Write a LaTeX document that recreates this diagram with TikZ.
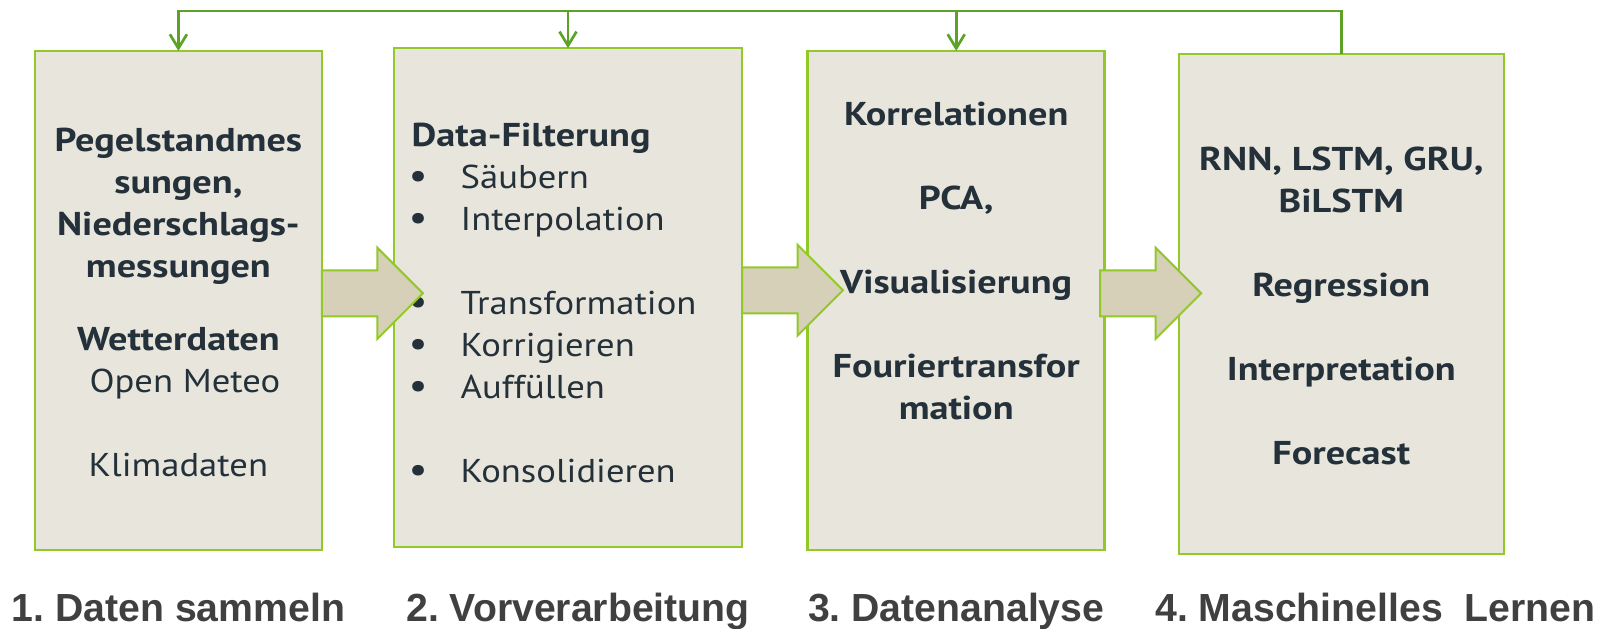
\documentclass[tikz,border=0pt]{standalone}
\usepackage{fontspec}
\setmainfont{PT Sans}[FakeStretch=1.11, BoldFeatures={FakeStretch=1.16}]
\newfontfamily\labelfont{Liberation Sans}
\usepackage{xcolor}
\usetikzlibrary{shapes.arrows,arrows.meta,positioning}

\definecolor{boxfill}{RGB}{232,230,220}
\definecolor{boxline}{RGB}{146,200,40}
\definecolor{flowfill}{RGB}{214,208,184}
\definecolor{loopline}{RGB}{92,162,38}
\definecolor{boxtext}{RGB}{36,49,58}
\definecolor{labeltext}{RGB}{64,64,64}

\newcommand{\pbul}{\makebox[49pt][l]{\hspace{-3pt}\scalebox{1.15}{\textbullet}}}
\frenchspacing

\begin{document}
\begin{tikzpicture}[
    x=1pt, y=-1pt,
    box/.style={rectangle, draw=boxline, fill=boxfill, line width=2.5pt, outer sep=0pt},
    flow/.style={single arrow, draw=boxline, fill=flowfill, line width=2pt, inner xsep=0pt, inner ysep=22pt,
        single arrow head extend=22.5pt, minimum height=101pt, outer sep=0pt, anchor=tail},
    content/.style={text=boxtext, inner sep=0pt, font=\fontsize{33}{42}\selectfont},
    steplabel/.style={text=labeltext, inner sep=0pt, anchor=base, font=\labelfont\bfseries\fontsize{39.2}{45}\selectfont},
    feedback/.style={draw=loopline, line width=2.7pt, -{Straight Barb[length=14pt,width=17pt]}}
]
    \useasboundingbox (0,0) rectangle (1599,629);

    \node[box, minimum width=287pt, minimum height=499pt] (b1) at (178.4,300.4) {};
    \node[box, minimum width=348pt, minimum height=499pt] (b2) at (568,297.7) {};
    \node[box, minimum width=297pt, minimum height=499pt] (b3) at (956.2,300.4) {};
    \node[box, minimum width=325pt, minimum height=500pt] (b4) at (1341.3,304.2) {};

    \node[content, anchor=north, align=center] (t1) at (178.4,127.5) {%
        \textbf{Pegelstandmes}\\ \textbf{sungen,}\\ \textbf{Niederschlags-}\\ \textbf{messungen}\\[31pt]
        \textbf{Wetterdaten}\\ \hspace*{13pt}Open Meteo\\[42pt] Klimadaten};
    \node[content, anchor=north west, align=left] (t2) at (411.5,122.5) {%
        \textbf{Data-Filterung}\\ \pbul Säubern\\ \pbul Interpolation\\[42pt]
        \pbul Transformation\\ \pbul Korrigieren\\ \pbul Auffüllen\\[42pt] \pbul Konsolidieren};
    \node[content, anchor=north, align=center, font=\bfseries\fontsize{33}{42}\selectfont] (t3) at (956.2,101.5) {%
        Korrelationen\\[42pt] PCA,\\[42pt] Visualisierung\\[42pt] Fouriertransfor\\ mation};
    \node[content, anchor=north, align=center, font=\bfseries\fontsize{33}{42}\selectfont] (t4) at (1341.3,147) {%
        RNN, LSTM, GRU,\\ BiLSTM\\[42pt] Regression\\[42pt] Interpretation\\[42pt] Forecast};

    \coordinate (mid) at (0,293.3);
    \node[flow] (f12) at (b1.east |- mid) {};
    \node[flow, yshift=3pt] (f23) at (b2.east |- mid) {};
    \node[flow, xshift=-4.5pt] (f34) at (b3.east |- mid) {};

    \coordinate (top) at (0,11);
    \draw[feedback] (b4.north) |- (b1.north |- top) -- (b1.north);
    \draw[feedback] (b2.north |- top) -- (b2.north);
    \draw[feedback] (b3.north |- top) -- (b3.north);

    \coordinate (base) at (0,621.7);
    \node[steplabel] (l1) at (b1.south |- base) {1. Daten sammeln};
    \node[steplabel, xshift=10pt] (l2) at (b2.south |- base) {2. Vorverarbeitung};
    \node[steplabel] (l3) at (b3.south |- base) {3. Datenanalyse};
    \node[steplabel, xshift=34pt] (l4) at (b4.south |- base) {4. Maschinelles\ \ Lernen};
\end{tikzpicture}
\end{document}
